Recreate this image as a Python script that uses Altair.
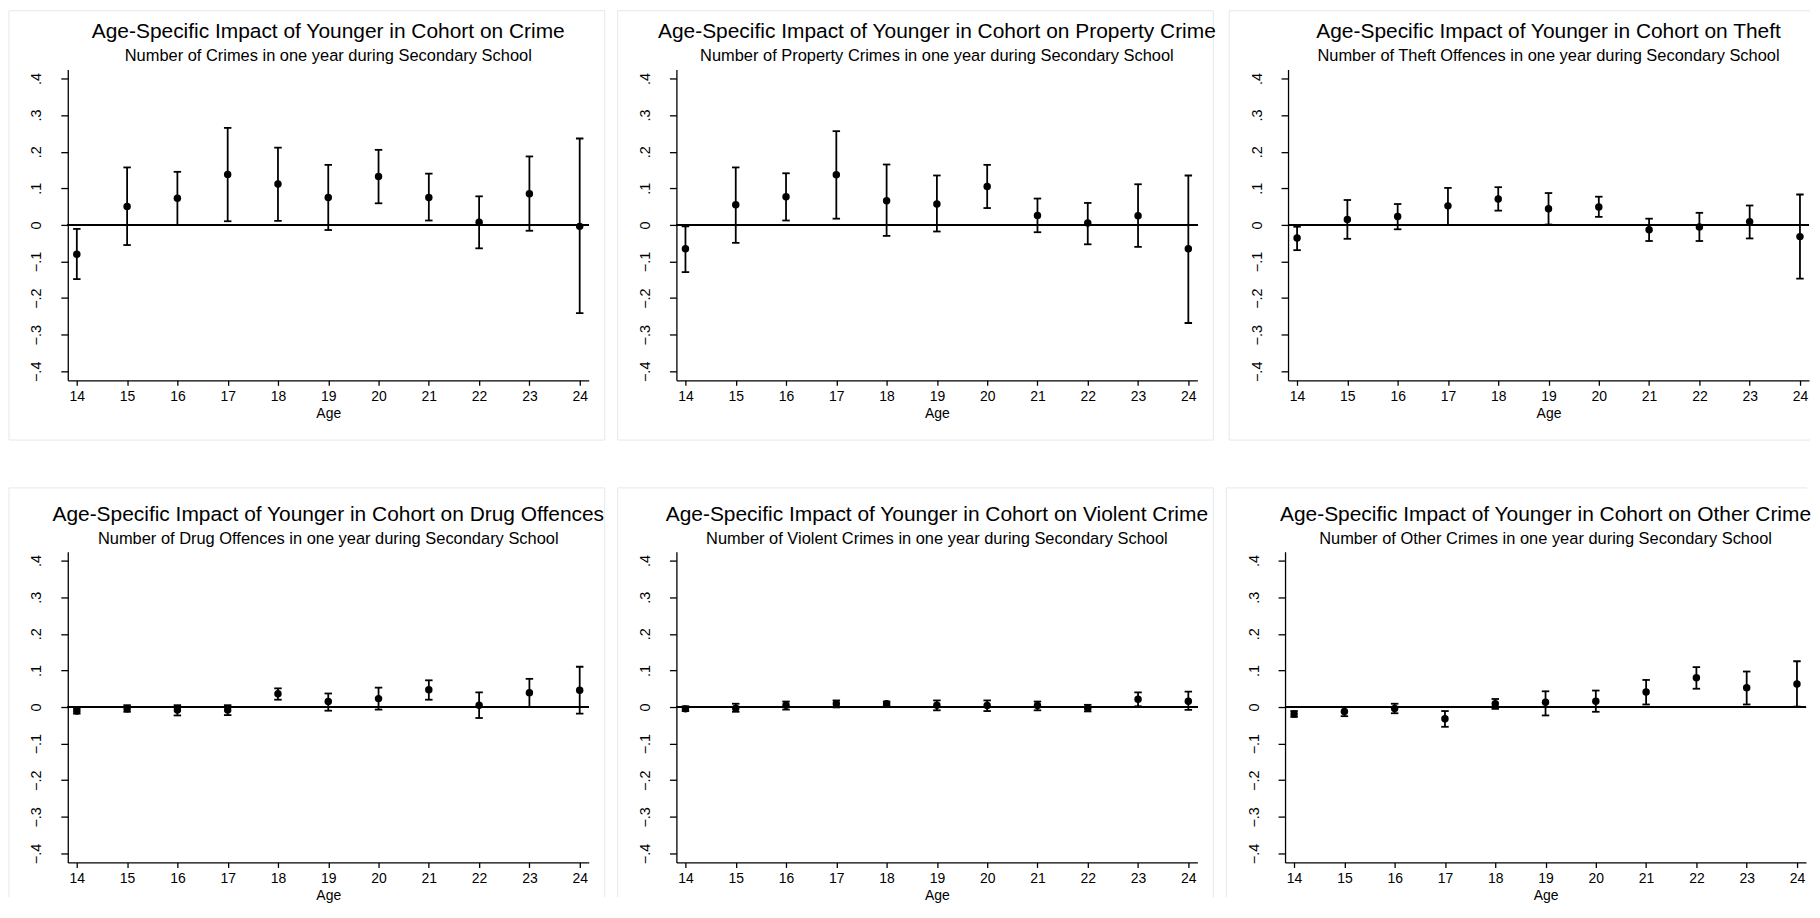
import altair as alt
import pandas as pd

AGES = [14, 15, 16, 17, 18, 19, 20, 21, 22, 23, 24]
Y_TICKS = [-0.4, -0.3, -0.2, -0.1, 0.0, 0.1, 0.2, 0.3, 0.4]

crime_est = [-0.080, 0.050, 0.073, 0.138, 0.112, 0.075, 0.132, 0.075, 0.007, 0.085, -0.004]
crime_lo = [-0.148, -0.055, 0.000, 0.010, 0.011, -0.014, 0.059, 0.012, -0.064, -0.016, -0.241]
crime_hi = [-0.011, 0.157, 0.145, 0.265, 0.211, 0.164, 0.205, 0.140, 0.078, 0.187, 0.236]

property_est = [-0.065, 0.055, 0.077, 0.137, 0.066, 0.057, 0.105, 0.026, 0.005, 0.025, -0.065]
property_lo = [-0.129, -0.049, 0.012, 0.017, -0.030, -0.018, 0.046, -0.020, -0.053, -0.060, -0.268]
property_hi = [-0.004, 0.157, 0.141, 0.256, 0.165, 0.135, 0.164, 0.072, 0.060, 0.111, 0.135]

theft_est = [-0.036, 0.015, 0.023, 0.052, 0.071, 0.044, 0.049, -0.013, -0.006, 0.009, -0.032]
theft_lo = [-0.069, -0.038, -0.012, 0.000, 0.039, 0.001, 0.022, -0.044, -0.044, -0.037, -0.147]
theft_hi = [-0.005, 0.068, 0.057, 0.101, 0.103, 0.087, 0.077, 0.017, 0.033, 0.053, 0.083]

drug_est = [-0.011, -0.005, -0.008, -0.008, 0.036, 0.015, 0.023, 0.047, 0.005, 0.039, 0.046]
drug_lo = [-0.018, -0.013, -0.023, -0.022, 0.020, -0.010, -0.007, 0.020, -0.030, 0.000, -0.018]
drug_hi = [-0.004, 0.005, 0.005, 0.005, 0.051, 0.037, 0.053, 0.073, 0.040, 0.077, 0.110]

violent_est = [-0.005, -0.003, 0.005, 0.009, 0.009, 0.005, 0.004, 0.004, -0.003, 0.021, 0.016]
violent_lo = [-0.011, -0.013, -0.007, -0.001, 0.003, -0.009, -0.011, -0.009, -0.012, 0.002, -0.008]
violent_hi = [0.002, 0.009, 0.015, 0.018, 0.015, 0.018, 0.018, 0.015, 0.006, 0.040, 0.042]

other_est = [-0.019, -0.012, -0.004, -0.032, 0.009, 0.013, 0.016, 0.041, 0.080, 0.053, 0.063]
other_lo = [-0.027, -0.025, -0.017, -0.054, -0.005, -0.023, -0.013, 0.007, 0.050, 0.007, 0.001]
other_hi = [-0.011, 0.000, 0.009, -0.011, 0.022, 0.043, 0.045, 0.074, 0.109, 0.097, 0.125]

TITLE_PREFIX = "Age-Specific Impact of Younger in Cohort on "
panel_titles = ["Crime", "Property Crime", "Theft", "Drug Offences", "Violent Crime", "Other Crime"]
panel_subtitles = [
    "Number of Crimes in one year during Secondary School",
    "Number of Property Crimes in one year during Secondary School",
    "Number of Theft Offences in one year during Secondary School",
    "Number of Drug Offences in one year during Secondary School",
    "Number of Violent Crimes in one year during Secondary School",
    "Number of Other Crimes in one year during Secondary School",
]
panel_data = [
    (crime_est, crime_lo, crime_hi),
    (property_est, property_lo, property_hi),
    (theft_est, theft_lo, theft_hi),
    (drug_est, drug_lo, drug_hi),
    (violent_est, violent_lo, violent_hi),
    (other_est, other_lo, other_hi),
]

W, H = 523, 312
FONT = "Liberation Sans"
FRAME = "#e2e9eb"


def frame_layers(top_off, draw_right, draw_bottom, bottom_off):
    one = alt.Chart(pd.DataFrame({"k": [0]}))
    L = -59
    R = W + 16 if draw_right else W + 1
    T = -top_off
    B = H + bottom_off
    style = dict(color=FRAME, strokeWidth=1)
    layers = [
        one.mark_rule(**style).encode(x=alt.value(L), x2=alt.value(R), y=alt.value(T)),
        one.mark_rule(**style).encode(x=alt.value(L), y=alt.value(T), y2=alt.value(B)),
    ]
    if draw_right:
        layers.append(one.mark_rule(**style).encode(x=alt.value(R), y=alt.value(T), y2=alt.value(B)))
    if draw_bottom:
        layers.append(one.mark_rule(**style).encode(x=alt.value(L), x2=alt.value(R), y=alt.value(B)))
    return layers


x_scale = alt.Scale(domain=[13.82, 24.18], nice=False, zero=False)
x_axis = alt.Axis(
    values=AGES, title="Age", titleFontSize=14, titleFontWeight="normal",
    titleFont=FONT, titleColor="black", titlePadding=3,
    labelFontSize=14, labelFont=FONT, labelColor="black", labelPadding=4,
    tickSize=5, tickColor="black", domainColor="black", domainWidth=1.3,
    tickWidth=1.3, grid=False, labelFlush=False, labelOverlap=False,
)
y_scale = alt.Scale(domain=[-0.4245, 0.4245], nice=False, zero=False)
y_axis = alt.Axis(
    values=Y_TICKS, title=None,
    labelExpr="datum.value == 0 ? '0' : replace(format(datum.value, '.1f'), '0.', '.')",
    labelAngle=270, labelAlign="center", labelBaseline="bottom", labelPadding=17,
    labelFontSize=14.5, labelFont=FONT, labelColor="black",
    tickSize=7, tickColor="black", tickWidth=1.3, domainColor="black", domainWidth=1.3,
    grid=False, labelFlush=False, labelOverlap=False,
)


def panel(i, top_off, draw_right, draw_bottom, bottom_off, title_offset):
    est, lo, hi = panel_data[i]
    df = pd.DataFrame({"age": AGES, "est": est, "lo": lo, "hi": hi})
    base = alt.Chart(df)
    x = alt.X("age:Q", scale=x_scale, axis=x_axis)
    zero = base.mark_rule(color="black", strokeWidth=1.8).encode(
        y=alt.YDatum(0, scale=y_scale, axis=y_axis)
    )
    bars = base.mark_rule(color="black", strokeWidth=1.8).encode(
        x=x, y=alt.Y("lo:Q", scale=y_scale, axis=y_axis), y2="hi:Q"
    )
    cap_lo = base.mark_tick(color="black", orient="horizontal", size=7.5, thickness=1.8, opacity=1).encode(
        x=x, y=alt.Y("lo:Q", scale=y_scale, axis=y_axis)
    )
    cap_hi = base.mark_tick(color="black", orient="horizontal", size=7.5, thickness=1.8, opacity=1).encode(
        x=x, y=alt.Y("hi:Q", scale=y_scale, axis=y_axis)
    )
    pts = base.mark_circle(color="black", size=56, opacity=1).encode(
        x=x, y=alt.Y("est:Q", scale=y_scale, axis=y_axis)
    )
    layers = frame_layers(top_off, draw_right, draw_bottom, bottom_off) + [zero, bars, cap_lo, cap_hi, pts]
    return alt.layer(*layers).properties(
        width=W,
        height=H,
        title=alt.TitleParams(
            text=TITLE_PREFIX + panel_titles[i],
            subtitle=panel_subtitles[i],
            fontSize=21, subtitleFontSize=16.5, font=FONT, subtitleFont=FONT,
            fontWeight="normal", color="black", subtitleColor="black",
            anchor="middle", frame="group", offset=title_offset, subtitlePadding=6,
        ),
    )


row1 = alt.hconcat(
    panel(0, 59, True, True, 60, -54.5),
    panel(1, 59, True, True, 60, -54.5),
    panel(2, 59, False, True, 60, -54.5),
    spacing=11,
)
row2 = alt.hconcat(
    panel(3, 64, True, False, 35, -60),
    panel(4, 64, True, False, 35, -60),
    panel(5, 64, False, False, 35, -60),
    spacing=11,
)
chart = (
    alt.vconcat(row1, row2, spacing=46)
    .properties(padding=0, background="white")
    .configure_view(stroke="transparent")
)
chart.save("out.html", embed_options={"renderer": "svg", "actions": False})
